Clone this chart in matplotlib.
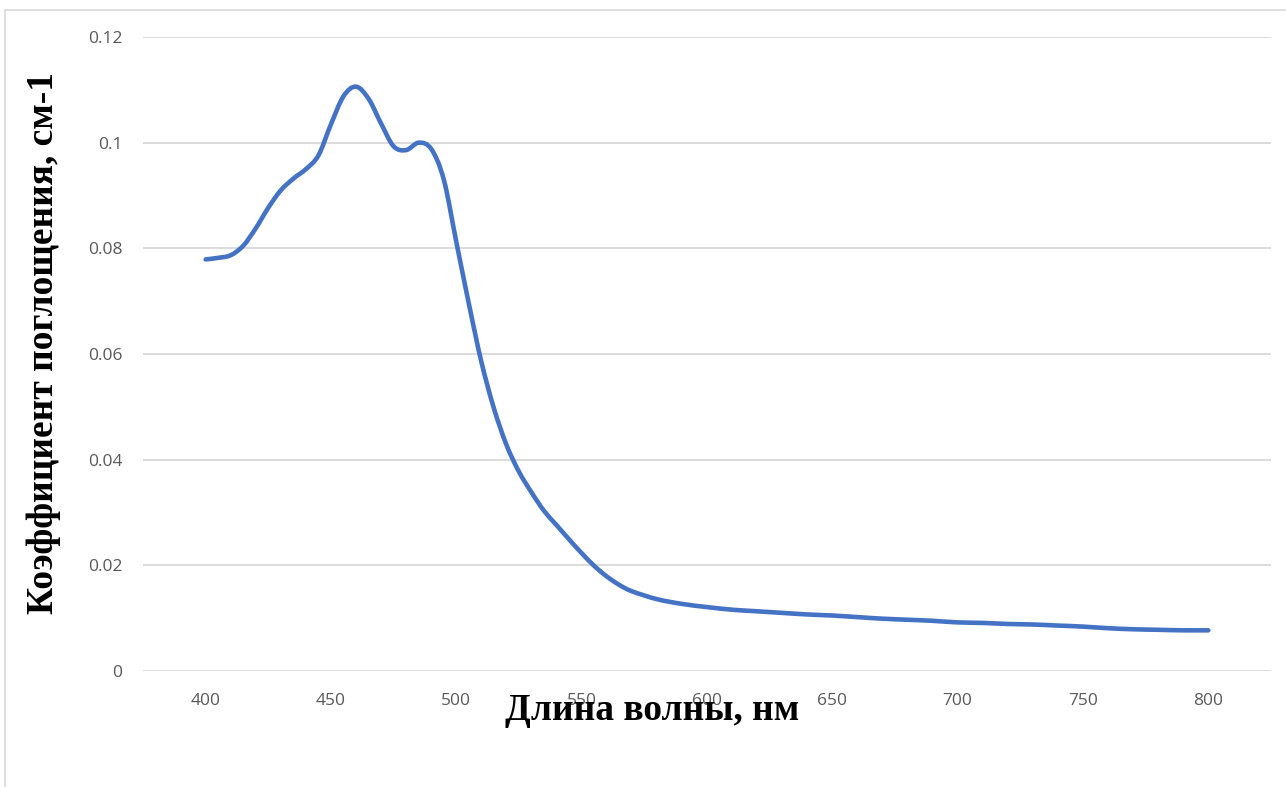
import matplotlib
matplotlib.use("Agg")
import matplotlib.pyplot as plt
from matplotlib.patches import Rectangle, PathPatch
from matplotlib.path import Path

# absorption spectrum, nm -> cm^-1
wavelength = [400, 405, 410, 415, 420, 425, 430, 435, 440, 445,
              450, 455, 460, 465, 470, 475, 480, 485, 490, 495,
              500, 505, 510, 515, 520, 525, 530, 535, 540, 545,
              550, 555, 560, 565, 570, 580, 590, 600, 610, 620,
              630, 640, 650, 660, 670, 680, 690, 700, 710, 720,
              730, 740, 750, 760, 770, 780, 790, 800]
absorption = [0.0779, 0.0782, 0.0787, 0.0805, 0.0838, 0.0877, 0.0910, 0.0932, 0.0950, 0.0976,
              0.1035, 0.1088, 0.1106, 0.1083, 0.1036, 0.0993, 0.0986, 0.1000, 0.0988, 0.0930,
              0.0812, 0.0695, 0.0585, 0.0497, 0.0428, 0.0377, 0.0338, 0.0303, 0.0276, 0.0249,
              0.0223, 0.0199, 0.0179, 0.0163, 0.0151, 0.0136, 0.0127, 0.0121, 0.0116, 0.0113,
              0.0110, 0.0107, 0.0105, 0.0102, 0.0099, 0.0097, 0.0095, 0.0092, 0.0091, 0.0089,
              0.0088, 0.0086, 0.0084, 0.0081, 0.0079, 0.0078, 0.0077, 0.0077]

x_ticks = [400, 450, 500, 550, 600, 650, 700, 750, 800]
y_ticks = [0, 0.02, 0.04, 0.06, 0.08, 0.1, 0.12]
y_tick_labels = ["0", "0.02", "0.04", "0.06", "0.08", "0.1", "0.12"]


def smooth_path(xs, ys):
    # "smoothed line": cubic Bezier segments through the points (Catmull-Rom handles)
    pts = list(zip(xs, ys))
    verts = [pts[0]]
    codes = [Path.MOVETO]
    n = len(pts)
    for i in range(n - 1):
        p0 = pts[i - 1] if i > 0 else pts[i]
        p1, p2 = pts[i], pts[i + 1]
        p3 = pts[i + 2] if i + 2 < n else pts[i + 1]
        c1 = (p1[0] + (p2[0] - p0[0]) / 6, p1[1] + (p2[1] - p0[1]) / 6)
        c2 = (p2[0] - (p3[0] - p1[0]) / 6, p2[1] - (p3[1] - p1[1]) / 6)
        verts += [c1, c2, p2]
        codes += [Path.CURVE4] * 3
    return Path(verts, codes)


W, H = 1286, 787
fig = plt.figure(figsize=(W / 100, H / 100), dpi=100)
fig.patch.set_facecolor("white")

# thin chart-area frame (runs off the right and bottom edge)
fig.patches.append(Rectangle((5 / W, -0.05), 1.1, 1 - 10 / H + 0.05,
                             transform=fig.transFigure, fill=False,
                             edgecolor="#d9d9d9", linewidth=1.2))

ax = fig.add_axes([143 / W, 1 - 671 / H, (1271 - 143) / W, (671 - 37) / H])
ax.set_xlim(375, 825)
ax.set_ylim(0, 0.12)

ax.add_patch(PathPatch(smooth_path(wavelength, absorption), facecolor="none",
                       edgecolor="#4472C4", linewidth=3.3, capstyle="round",
                       joinstyle="round", zorder=3))

ax.set_xticks(x_ticks)
ax.set_yticks(y_ticks)
ax.set_yticklabels(y_tick_labels)
ax.grid(axis="y", color="#d9d9d9", linewidth=1.3)
ax.set_axisbelow(True)
for s in ax.spines.values():
    s.set_visible(False)
ax.tick_params(length=0, labelsize=12.5, labelcolor="#595959")
ax.tick_params(axis="x", pad=16)
ax.tick_params(axis="y", pad=15)
for lbl in ax.get_xticklabels() + ax.get_yticklabels():
    lbl.set_fontfamily("Open Sans")

fig.text(652 / W, 1 - 711 / H, "Длина волны, нм", ha="center", va="center",
         fontsize=27, fontweight="bold", family="Liberation Serif", zorder=5)
fig.text(44 / W, 1 - 343 / H, "Коэффициент поглощения, см-1", ha="center", va="center",
         rotation=90, fontsize=27, fontweight="bold", family="Liberation Serif")

fig.savefig("out.png", dpi=100, facecolor="white")
